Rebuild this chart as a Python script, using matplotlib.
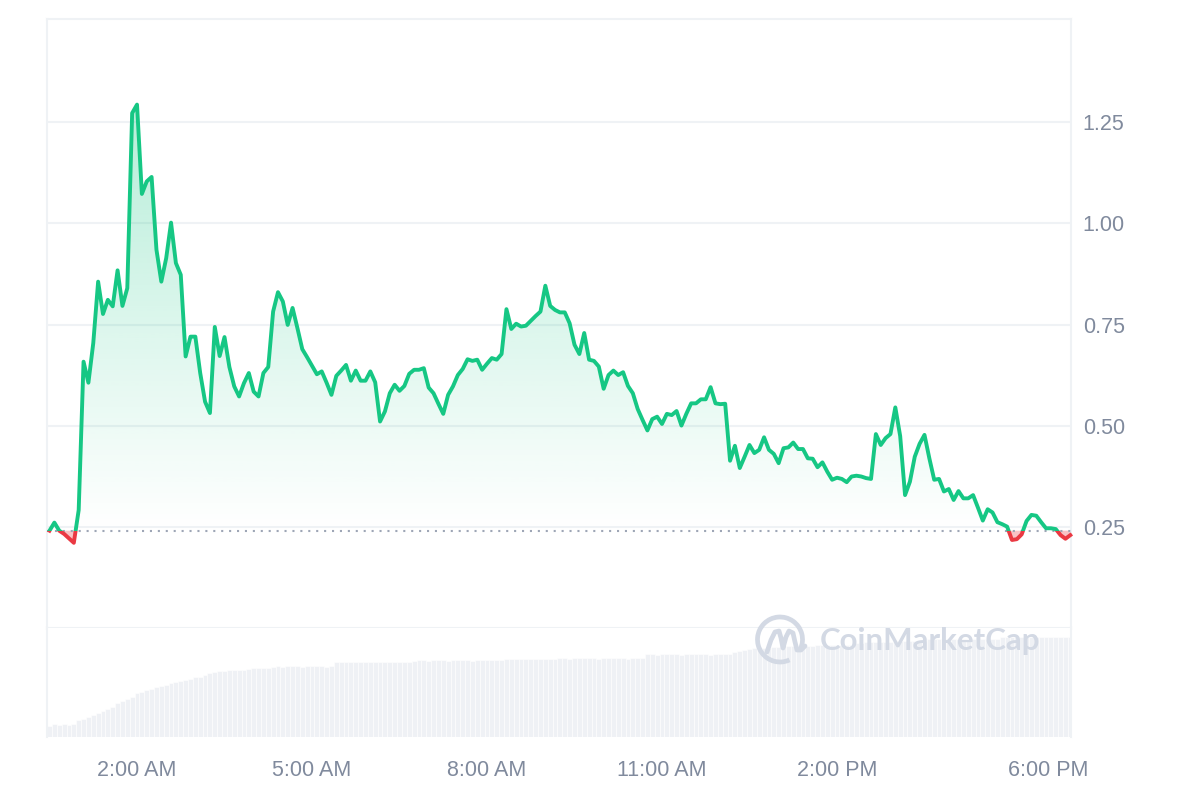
import numpy as np
import matplotlib.pyplot as plt
from matplotlib.patches import Rectangle, Polygon, Arc
from matplotlib.path import Path
from matplotlib.patches import PathPatch
from matplotlib.transforms import ScaledTranslation, IdentityTransform

plt.rcParams['font.family'] = ['Liberation Sans', 'DejaVu Sans']

# price samples, minutes after midnight (5 minute candles)
minutes = [30, 35, 40, 45, 55] + list(range(60, 1085, 5))
price = [
    0.240, 0.260, 0.240, 0.232, 0.210, 0.291, 0.658, 0.606, 0.704, 0.856,
    0.776, 0.811, 0.795, 0.884, 0.796, 0.840, 1.273, 1.294, 1.073, 1.104,
    1.115, 0.935, 0.856, 0.914, 1.002, 0.902, 0.873, 0.671, 0.720, 0.720,
    0.630, 0.559, 0.531, 0.744, 0.672, 0.719, 0.645, 0.597, 0.572, 0.605,
    0.630, 0.584, 0.572, 0.630, 0.645, 0.782, 0.830, 0.807, 0.749, 0.791,
    0.741, 0.689, 0.669, 0.648, 0.627, 0.634, 0.606, 0.576, 0.623, 0.636,
    0.650, 0.611, 0.636, 0.611, 0.611, 0.634, 0.607, 0.510, 0.535, 0.580,
    0.601, 0.586, 0.598, 0.628, 0.638, 0.638, 0.642, 0.594, 0.580, 0.554,
    0.529, 0.576, 0.597, 0.625, 0.640, 0.664, 0.660, 0.663, 0.638, 0.653,
    0.667, 0.663, 0.677, 0.788, 0.739, 0.752, 0.745, 0.747, 0.759, 0.771,
    0.782, 0.846, 0.796, 0.786, 0.780, 0.780, 0.753, 0.700, 0.677, 0.729,
    0.663, 0.660, 0.646, 0.591, 0.625, 0.636, 0.625, 0.632, 0.598, 0.580,
    0.541, 0.514, 0.488, 0.516, 0.522, 0.504, 0.529, 0.526, 0.536, 0.500,
    0.529, 0.555, 0.555, 0.565, 0.565, 0.595, 0.555, 0.553, 0.554, 0.413,
    0.450, 0.395, 0.423, 0.452, 0.432, 0.440, 0.471, 0.440, 0.430, 0.407,
    0.444, 0.446, 0.458, 0.442, 0.442, 0.419, 0.418, 0.397, 0.409, 0.386,
    0.366, 0.371, 0.368, 0.360, 0.374, 0.376, 0.374, 0.370, 0.368, 0.479,
    0.452, 0.469, 0.479, 0.545, 0.474, 0.328, 0.361, 0.423, 0.455, 0.477,
    0.419, 0.366, 0.368, 0.337, 0.343, 0.316, 0.338, 0.320, 0.320, 0.328,
    0.297, 0.265, 0.293, 0.285, 0.261, 0.256, 0.250, 0.217, 0.219, 0.231,
    0.264, 0.279, 0.277, 0.261, 0.246, 0.246, 0.244, 0.229, 0.220, 0.229,
]

# 24h volume (millions), one bar per 5 minutes from 0:30
vol_minutes = list(range(30, 1085, 5))
volume = [
    1.07, 1.23, 1.20, 1.23, 1.18, 1.23,
    1.63, 1.80, 2.00, 2.17, 2.37, 2.57, 2.77, 2.93, 3.37, 3.60, 3.77, 3.97,
    4.40, 4.47, 4.63, 4.80, 4.93, 5.07, 5.20, 5.37, 5.50, 5.60, 5.67, 5.80,
    5.97, 6.00, 6.13, 6.37, 6.47, 6.53, 6.60, 6.63, 6.63, 6.67, 6.67, 6.77,
    6.83, 6.83, 6.90, 6.90, 7.00,
    7.03, 7.00, 7.03, 7.05, 7.03, 7.00, 7.03, 7.05, 7.03, 7.03, 7.00, 7.05,
    7.43, 7.45, 7.43, 7.50, 7.50, 7.47, 7.50, 7.50, 7.47, 7.50, 7.50, 7.50,
    7.47, 7.50, 7.50, 7.50, 7.53,
    7.63, 7.63, 7.60, 7.63, 7.65, 7.63, 7.60, 7.63, 7.63, 7.65, 7.63, 7.60,
    7.63, 7.63, 7.65, 7.63, 7.63, 7.65,
    7.80, 7.80, 7.78, 7.80, 7.80, 7.82, 7.80, 7.80, 7.78, 7.80, 7.80,
    7.83, 7.83, 7.80, 7.83, 7.83, 7.85, 7.83, 7.83, 7.80, 7.83, 7.83, 7.85,
    7.83, 7.83, 7.80, 7.83, 7.83, 7.85,
    8.23, 8.23, 8.20, 8.23, 8.25, 8.23, 8.23, 8.20, 8.23, 8.23, 8.25, 8.23,
    8.23, 8.20, 8.23, 8.25, 8.23, 8.23,
    8.50, 8.60, 8.70, 8.80, 8.87, 8.87, 8.90, 8.90, 8.93, 8.97,
    9.05, 9.05, 9.08, 9.10, 9.10, 9.12, 9.12, 9.15, 9.15, 9.17, 9.17, 9.18,
    9.20, 9.20, 9.20,
    9.40, 9.42, 9.45, 9.45, 9.48, 9.50, 9.50, 9.52, 9.55, 9.55, 9.57, 9.58,
    9.60, 9.60, 9.60,
    9.80, 9.80, 9.78, 9.80, 9.82, 9.80, 9.80, 9.78, 9.80, 9.82, 9.80, 9.80,
    9.80, 9.82, 9.80,
    10.0, 10.0, 9.98, 10.0, 10.0, 10.02, 10.0, 10.0, 9.98, 10.0, 10.0, 10.02,
    10.0, 10.0, 10.0,
]

y_ticks = [0.25, 0.50, 0.75, 1.00, 1.25]
x_ticks = [2, 5, 8, 11, 14, 18]
x_labels = ['2:00 AM', '5:00 AM', '8:00 AM', '11:00 AM', '2:00 PM', '6:00 PM']

GREEN = '#16C784'
RED = '#EA3943'
GRID = '#EFF2F5'
TXT = '#808A9D'
WM = '#D3D9E4'

t = np.array(minutes) / 60
p = np.array(price)
base = price[0]
x0, x1 = 27.1 / 60, 1080.4 / 60

fig = plt.figure(figsize=(12, 8), dpi=100)
L, R = 46.7 / 1200, 1070.7 / 1200
ax = fig.add_axes([L, 1 - 627.7 / 800, R - L, (627.7 - 18.5) / 800])
axv = fig.add_axes([L, 1 - 736.7 / 800, R - L, 109 / 800])

# price pane
ax.set_xlim(x0, x1)
ax.set_ylim(0, 1.507)
ax.set_yticks(y_ticks)
ax.set_yticklabels(['%.2f' % v for v in y_ticks])
ax.yaxis.tick_right()
ax.tick_params(axis='y', length=0, pad=8.6, labelsize=15.5, labelcolor=TXT)
ax.tick_params(axis='x', length=0, labelbottom=False)
ax.grid(axis='y', color=GRID, lw=1.5)
ax.set_axisbelow(True)
for s in ax.spines.values():
    s.set_color(GRID)
    s.set_linewidth(1.5)

# gradient fill above the open price
top_clip = np.maximum(p, base)
verts = [(t[0], base)] + list(zip(t, top_clip)) + [(t[-1], base)]
clip_poly = Polygon(verts, closed=True, transform=ax.transData)
grad = np.zeros((256, 1, 4))
grad[..., 0] = 22 / 255
grad[..., 1] = 199 / 255
grad[..., 2] = 132 / 255
grad[:, 0, 3] = np.linspace(0.32, 0.0, 256)
im = ax.imshow(grad, extent=[x0, x1, base, 1.32], origin='upper', aspect='auto',
               interpolation='bilinear', zorder=2)
im.set_clip_path(clip_poly)

# red fill below the open price
ax.fill_between(t, p, base, where=p < base, interpolate=True,
                color=RED, alpha=0.3, lw=0, zorder=2)

# baseline
ax.axhline(base, color='#9EA6B6', lw=1.5, ls=(0, (1, 2.8)), zorder=3)

# line, green above / red below the baseline
up_rect = Rectangle((x0 - 1, base), 30, 5, transform=ax.transData)
dn_rect = Rectangle((x0 - 1, base - 5), 30, 5, transform=ax.transData)
lg, = ax.plot(t, p, color=GREEN, lw=2.8, solid_joinstyle='round', zorder=4)
lg.set_clip_path(up_rect)
lr, = ax.plot(t, p, color=RED, lw=2.8, solid_joinstyle='round', zorder=4)
lr.set_clip_path(dn_rect)

# volume pane
vt = np.array(vol_minutes) / 60
axv.bar(vt, volume, width=5 / 60, color='#EFF1F5', edgecolor='white',
        linewidth=0.4, align='center')
axv.set_xlim(x0, x1)
axv.set_ylim(0, 10.9)
axv.set_yticks([])
axv.set_xticks(x_ticks)
axv.set_xticklabels(x_labels)
axv.tick_params(axis='x', length=0, pad=17, labelsize=15.5, labelcolor=TXT)
for k in ['top', 'bottom']:
    axv.spines[k].set_visible(False)
for k in ['left', 'right']:
    axv.spines[k].set_color(GRID)
    axv.spines[k].set_linewidth(1.5)
lab = axv.get_xticklabels()[-1]
lab.set_transform(lab.get_transform() + ScaledTranslation(-0.22, 0, fig.dpi_scale_trans))

# watermark
fig.text(820 / 1200, 1 - 641 / 800, 'CoinMarketCap', fontsize=22.5, color=WM,
         fontweight='bold', family=['Lato', 'DejaVu Sans'], va='center', ha='left')
ring = Arc((780, 800 - 639.5), 45, 45, theta1=-25, theta2=295, color=WM, lw=3.4,
           transform=IdentityTransform())
fig.add_artist(ring)
m_pts = [(767, 652), (771, 640), (775, 632), (779, 631), (781, 638), (783, 648),
         (786, 637), (789, 631), (793, 633), (795, 642), (797, 650), (801, 650),
         (805, 646)]
m_path = Path([(x, 800 - y) for x, y in m_pts])
fig.add_artist(PathPatch(m_path, fill=False, edgecolor=WM, lw=3.4,
                         capstyle='round', joinstyle='round',
                         transform=IdentityTransform()))

fig.savefig('out.png', dpi=100)
